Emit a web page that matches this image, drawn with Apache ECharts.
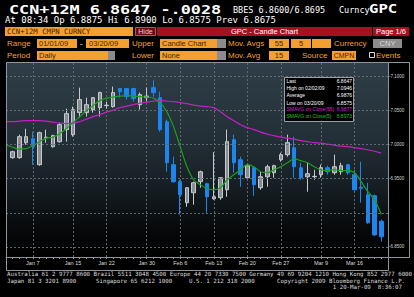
<!DOCTYPE html>
<html><head><meta charset="utf-8">
<script src="https://cdn.jsdelivr.net/npm/echarts@6/dist/echarts.min.js"></script>
<style>html,body{margin:0;padding:0;background:#000;}#c{width:414px;height:297px;}</style>
</head><body><div id="c"></div>
<script>
// ---------- data ----------
const categories = ['Jan 1','Jan 2','Jan 5','Jan 6','Jan 7','Jan 8','Jan 9','Jan 12','Jan 13','Jan 14','Jan 15','Jan 16','Jan 19','Jan 20','Jan 21','Jan 22','Jan 23','Jan 26','Jan 27','Jan 28','Jan 29','Jan 30',
'Feb 2','Feb 3','Feb 4','Feb 5','Feb 6','Feb 9','Feb 10','Feb 11','Feb 12','Feb 13','Feb 16','Feb 17','Feb 18','Feb 19','Feb 20','Feb 23','Feb 24','Feb 25','Feb 26','Feb 27',
'Mar 2','Mar 3','Mar 4','Mar 5','Mar 6','Mar 9','Mar 10','Mar 11','Mar 12','Mar 13','Mar 16','Mar 17','Mar 18','Mar 19','Mar 20','Mar 23'];
const opens = [null,6.9809,6.9809,7.0029,7.0088,6.9706,7.0103,6.9971,7.0044,7.0221,7.0147,7.0471,7.0471,7.0515,7.0544,7.0574,7.0559,7.0824,7.0824,7.0824,7.0588,7.0691,
7.0838,7.0691,7.0338,6.9706,6.9456,6.9147,6.9294,6.9456,6.9426,6.9206,6.9221,6.9338,7.0074,6.9779,6.9515,6.9662,6.9368,6.9529,6.9588,6.9779,
6.9853,6.9956,6.9662,6.9529,6.9529,6.9559,6.9662,6.9588,6.9603,6.9706,6.9559,6.9375,6.9265,6.9250,6.8875,null];
const closes = [null,6.9897,7.0118,7.0118,6.9971,7.0176,7.0110,7.0132,7.0294,7.0456,7.0515,7.0662,7.0588,7.0691,7.0765,7.0580,7.0765,7.0779,7.0706,7.0676,7.0735,7.0713,
7.0765,7.0221,6.9735,6.9456,6.9265,6.9368,6.9441,6.9603,6.9235,6.9235,6.9515,7.0044,6.9735,6.9559,6.9691,6.9412,6.9529,6.9676,6.9691,6.9853,
7.0029,6.9676,6.9515,6.9574,6.9535,6.9662,6.9603,6.9676,6.9691,6.9588,6.9338,6.9360,6.8853,6.8675,6.8647,null];
const lows = [null,6.9794,6.9794,7.0000,6.9706,6.9691,7.0029,6.9956,7.0029,7.0044,7.0118,7.0397,7.0412,7.0471,7.0412,7.0529,7.0544,7.0691,7.0662,7.0632,7.0515,7.0632,
7.0706,7.0191,6.9603,6.9441,6.8971,6.9088,6.9118,6.9368,6.9000,6.9191,6.9191,6.9235,6.9588,6.9382,6.9500,6.9250,6.9338,6.9382,6.9515,6.9750,
6.9824,6.9515,6.9485,6.9309,6.9485,6.9515,6.9559,6.9559,6.9559,6.9559,6.9324,6.9147,6.8838,6.8662,6.8575,null];
const highs = [null,6.9912,7.0147,7.0235,7.0191,7.0191,7.0221,7.0147,7.0324,7.0529,7.0559,7.0838,7.0691,7.0700,7.0779,7.0632,7.0853,7.0830,7.0830,7.0838,7.0765,7.0838,
7.0946,7.0779,7.0368,6.9824,6.9485,6.9375,6.9456,6.9618,6.9441,6.9890,6.9520,7.0221,7.0147,6.9824,6.9706,6.9670,6.9603,6.9706,6.9706,6.9882,
7.0147,7.0118,6.9735,6.9735,6.9632,6.9706,6.9691,6.9853,6.9735,6.9720,6.9632,6.9750,6.9441,6.9265,6.8900,null];
const sma55 = [7.0338,7.0338,7.0346,7.0353,7.0353,7.0353,7.0346,7.0331,7.0316,7.0309,7.0316,7.0338,7.0375,7.0412,7.0441,7.0478,7.0507,7.0544,7.0566,7.0588,7.0610,7.0625,
7.0640,7.0647,7.0640,7.0632,7.0618,7.0603,7.0581,7.0566,7.0559,7.0544,7.0485,7.0412,7.0353,7.0294,7.0250,7.0221,7.0184,7.0154,7.0132,7.0110,
7.0096,7.0081,7.0059,7.0044,7.0029,7.0022,7.0007,6.9993,6.9978,6.9971,6.9956,6.9941,6.9926,6.9904,6.9877,null];
const sma5 = [7.0000,6.9963,6.9934,6.9941,6.9985,7.0044,7.0096,7.0110,7.0162,7.0235,7.0324,7.0412,7.0500,7.0574,7.0647,7.0684,7.0699,7.0713,7.0721,7.0713,7.0706,7.0699,
7.0684,7.0618,7.0485,7.0265,6.9971,6.9676,6.9485,6.9412,6.9353,6.9338,6.9368,6.9485,6.9559,6.9632,6.9706,6.9676,6.9603,6.9588,6.9632,6.9676,
6.9735,6.9794,6.9765,6.9735,6.9676,6.9632,6.9618,6.9632,6.9618,6.9618,6.9588,6.9456,6.9309,6.9191,6.8973,null];
const dateLabels = ['Jan 7','Jan 15','Jan 22','Jan 30','Feb 6','Feb 13','Feb 20','Feb 27','Mar 9','Mar 16'];
const yTicks = [6.85,6.90,6.95,7.00,7.05,7.10];
const yLabelled = [6.85,6.95,7.00,7.05,7.10]; // 6.90 is covered by the SMAVG(5) tag in the reference
const statLabels = ['Last','High on 02/02/09','Average','Low on 03/20/09','SMAVG on Close(55)','SMAVG on Close(5)'];
const statValues = ['6.8647','7.0946','6.9876','6.8575','6.9877','6.8973'];
const footer1 = 'Australia 61 2 9777 8600 Brazil 5511 3048 4500 Europe 44 20 7330 7500 Germany 49 69 9204 1210 Hong Kong 852 2977 6000';
const footer2 = ['Japan 81 3 3201 8900','Singapore 65 6212 1000','U.S. 1 212 318 2000','Copyright 2009 Bloomberg Finance L.P.'];
const footer3 = '1 20-Mar-09  8:36:07';

// ---------- styles ----------
const ORANGE = '#f4a030', DARK = '#4a2200', RED = '#a5121f', GRAYBOX = '#8c8c8c';
const MAG = '#c41fc4', GRN = '#1aa01a', FRAME = '#8f959b', GRID = '#5f6970';
const MONO = '"DejaVu Sans Mono", monospace', SANS = '"Liberation Sans", Arial, sans-serif';

const g = [];
function R(x, y, w, h, fill, stroke, z) {
  const st = { fill: fill };
  if (stroke) { st.stroke = stroke; st.lineWidth = 1; }
  g.push({ type: 'rect', silent: true, z: z == null ? 5 : z, shape: { x: x, y: y, width: w, height: h }, style: st });
}
function T(x, y, text, size, color, o) {
  o = o || {};
  const al = o.align || 'left';
  g.push({ type: 'text', silent: true, z: o.z || 12, x: x, y: y, scaleX: o.sx || 1,
    style: { text: text, fill: color, fontSize: size, fontFamily: o.font || SANS, fontWeight: o.bold ? 'bold' : 'normal',
      align: al, textAlign: al, verticalAlign: 'middle', textVerticalAlign: 'middle' } });
}
function L(x1, y1, x2, y2, color, z) {
  g.push({ type: 'line', silent: true, z: z || 11, shape: { x1: x1, y1: y1, x2: x2, y2: y2 }, style: { stroke: color, lineWidth: 1 } });
}

// plot background
g.push({ type: 'rect', silent: true, z: -5, shape: { x: 6, y: 63, width: 382, height: 194 },
  style: { fill: { type: 'linear', x: 0, y: 0, x2: 0, y2: 1, colorStops: [
    { offset: 0, color: '#2f3e48' }, { offset: 0.4, color: '#232f36' }, { offset: 0.65, color: '#151d22' },
    { offset: 0.86, color: '#07090b' }, { offset: 1, color: '#000' }] } } });

// header
T(9, 9, 'CCN+12M 6.8647 -.0028', 12, '#fff', { font: MONO, bold: true, sx: 1.4 });
T(233, 9.5, 'BBES 6.8600/6.8695', 8.5, '#fff', { font: MONO });
T(339, 9.5, 'Curncy', 8.5, '#fff', { font: MONO });
T(369, 9, 'GPC', 12, '#fff', { font: MONO, bold: true, sx: 1.3 });
T(5, 20, 'At 08:34 Op 6.8875 Hi 6.8900 Lo 6.8575 Prev 6.8675', 9, '#fff', { font: MONO });

R(5, 27, 128, 9, ORANGE); T(7, 31.5, 'CCN+12M CMPN CURNCY', 7.3, DARK, { font: MONO });
R(135.5, 27.5, 20, 8, '#6e0a12', '#c05060'); T(145.5, 31.5, 'Hide', 7, '#f0c8c8', { align: 'center' });
R(157, 27, 215, 9, RED); T(264.5, 31.5, 'GPC - Candle Chart', 7.5, '#fff', { align: 'center' });
R(373, 27, 36, 9, RED); T(391, 31.5, 'Page 1/6', 7.5, '#fff', { align: 'center' });

// row 4
const r4 = 43.5, r5 = 55.5;
T(7, r4, 'Range', 8, ORANGE);
R(37, 39, 40, 9, ORANGE); T(39, r4, '01/01/09', 7.5, DARK);
T(80, r4, '-', 8, '#fff');
R(86, 39, 43, 9, ORANGE); T(89, r4, '03/20/09', 7.5, DARK);
T(132, r4, 'Upper', 8, ORANGE);
R(160, 39, 57, 9, ORANGE); T(162, r4, 'Candle Chart', 7.5, DARK);
R(217, 39, 9, 9, GRAYBOX);
T(228, r4, 'Mov. Avgs', 8, ORANGE);
R(269, 39, 20, 9, ORANGE); T(279, r4, '55', 7.5, DARK, { align: 'center' });
R(291, 39, 20, 9, ORANGE); T(301, r4, '5', 7.5, DARK, { align: 'center' });
R(312, 39, 19, 9, ORANGE);
T(334, r4, 'Currency', 8, ORANGE);
R(373, 39, 29, 9, GRAYBOX); T(387.5, r4, 'CNY', 7.5, '#d8d8d8', { align: 'center' });
// row 5
T(7, r5, 'Period', 8, ORANGE);
R(37, 51, 71, 9, ORANGE); T(39, r5, 'Daily', 7.5, DARK);
R(108, 51, 7, 9, GRAYBOX);
T(132, r5, 'Lower', 8, ORANGE);
R(160, 51, 57, 9, ORANGE); T(162, r5, 'None', 7.5, DARK);
R(217, 51, 9, 9, GRAYBOX);
T(228, r5, 'Mov. Avg', 8, ORANGE);
R(269, 51, 20, 9, ORANGE); T(279, r5, '15', 7.5, DARK, { align: 'center' });
T(302, r5, 'Source', 8, ORANGE);
R(332, 51, 24, 9, ORANGE); T(344, r5, 'CMPN', 7, DARK, { align: 'center' });
R(369.5, 52.5, 5, 5, '#000', '#dddddd');
T(376, r5, 'Events', 8, ORANGE);

// frames
L(6.5, 62.5, 409.5, 62.5, FRAME);
L(6.5, 62.5, 6.5, 270.5, FRAME);
L(388.5, 62.5, 388.5, 270.5, FRAME);
L(409.5, 62.5, 409.5, 257.5, FRAME);
L(6.5, 270.5, 388.5, 270.5, FRAME);
L(388.5, 257.5, 409.5, 257.5, FRAME);

// stats box
R(284.5, 77.5, 69, 44, '#000', '#9aa0a6', 20);
const statY = [81.2, 88.2, 95.4, 102.5, 109.3, 116.4];
const statCol = ['#fff', '#fff', '#fff', '#fff', '#d426d4', '#22c222'];
statLabels.forEach(function (s, i) {
  T(286.5, statY[i], s, 5, statCol[i], { z: 21 });
  T(352, statY[i], statValues[i], 5, statCol[i], { z: 21, align: 'right' });
});

// footer
T(7, 274, footer1, 5.75, '#dcdcdc', { font: MONO });
T(7, 280.5, footer2[0], 5.75, '#dcdcdc', { font: MONO });
T(96, 280.5, footer2[1], 5.75, '#dcdcdc', { font: MONO });
T(189, 280.5, footer2[2], 5.75, '#dcdcdc', { font: MONO });
T(277, 280.5, footer2[3], 5.75, '#dcdcdc', { font: MONO });
T(402, 287, footer3, 5.75, '#dcdcdc', { font: MONO, align: 'right' });

// ---------- chart ----------
const candleData = categories.map(function (c, i) {
  return opens[i] == null ? ['-', '-', '-', '-'] : [opens[i], closes[i], lows[i], highs[i]];
});
function tag(value, bg, fg) {
  return {
    silent: true, symbol: ['none', 'none'], lineStyle: { opacity: 0 },
    label: { show: true, position: 'end', distance: 2, formatter: function (p) { return p.value.toFixed(4); },
      backgroundColor: bg, color: fg, fontSize: 4.5, fontFamily: SANS, padding: [1.5, 2.5, 1.5, 2.5] },
    data: [{ yAxis: value }]
  };
}
function isLabelled(v) {
  return yLabelled.some(function (t) { return Math.abs(t - v) < 1e-6; });
}
const chart = echarts.init(document.getElementById('c'), null, { renderer: 'svg' });
chart.setOption({
  backgroundColor: '#000',
  animation: false,
  grid: { left: 6, right: 26, top: 63, bottom: 40, containLabel: false, outerBoundsMode: 'none' },
  graphic: { elements: g },
  xAxis: {
    type: 'category', data: categories, boundaryGap: false,
    axisLine: { lineStyle: { color: FRAME, width: 1 } },
    axisTick: { show: true, interval: 0, length: 2, lineStyle: { color: FRAME } },
    axisLabel: { interval: function (i, v) { return dateLabels.indexOf(v) >= 0; }, color: '#dcdcdc', fontSize: 5.5, fontFamily: SANS, margin: 3 },
    splitLine: { show: true, interval: function (i, v) { return dateLabels.indexOf(v) >= 0; }, lineStyle: { color: GRID, type: [2, 2], width: 1 } }
  },
  yAxis: {
    type: 'value', position: 'right', min: 6.835, max: 7.12, interval: 0.005, scale: true,
    axisLine: { show: false }, axisTick: { show: false }, splitLine: { show: false },
    axisLabel: { margin: 1, color: '#d4d4d4', fontSize: 4.5, fontFamily: SANS,
      formatter: function (v) { return isLabelled(v) ? '-' + v.toFixed(4) : ''; } }
  },
  series: [
    { type: 'line', name: 'grid', data: categories.map(function () { return null; }), z: 1, silent: true, symbol: 'none',
      markLine: { silent: true, symbol: ['none', 'none'], label: { show: false },
        lineStyle: { type: [2, 2], color: GRID, width: 1 }, data: yTicks.map(function (v) { return { yAxis: v }; }) } },
    { type: 'candlestick', name: 'CCN+12M', data: candleData, barWidth: 4, z: 3,
      itemStyle: { color: '#878d92', borderColor: '#c6cacd', color0: '#1c86ee', borderColor0: '#1c86ee', borderWidth: 1 },
      markLine: tag(closes[56], '#ffffff', '#000') },
    { type: 'line', name: 'SMAVG(55)', data: sma55, symbol: 'none', smooth: 0.3, z: 4,
      lineStyle: { color: MAG, width: 1.2 }, markLine: tag(sma55[56], MAG, '#fff') },
    { type: 'line', name: 'SMAVG(5)', data: sma5, symbol: 'none', smooth: 0.3, z: 4,
      lineStyle: { color: GRN, width: 1.2 }, markLine: tag(sma5[56], '#16b016', '#0a2a0a') }
  ]
});
</script></body></html>
